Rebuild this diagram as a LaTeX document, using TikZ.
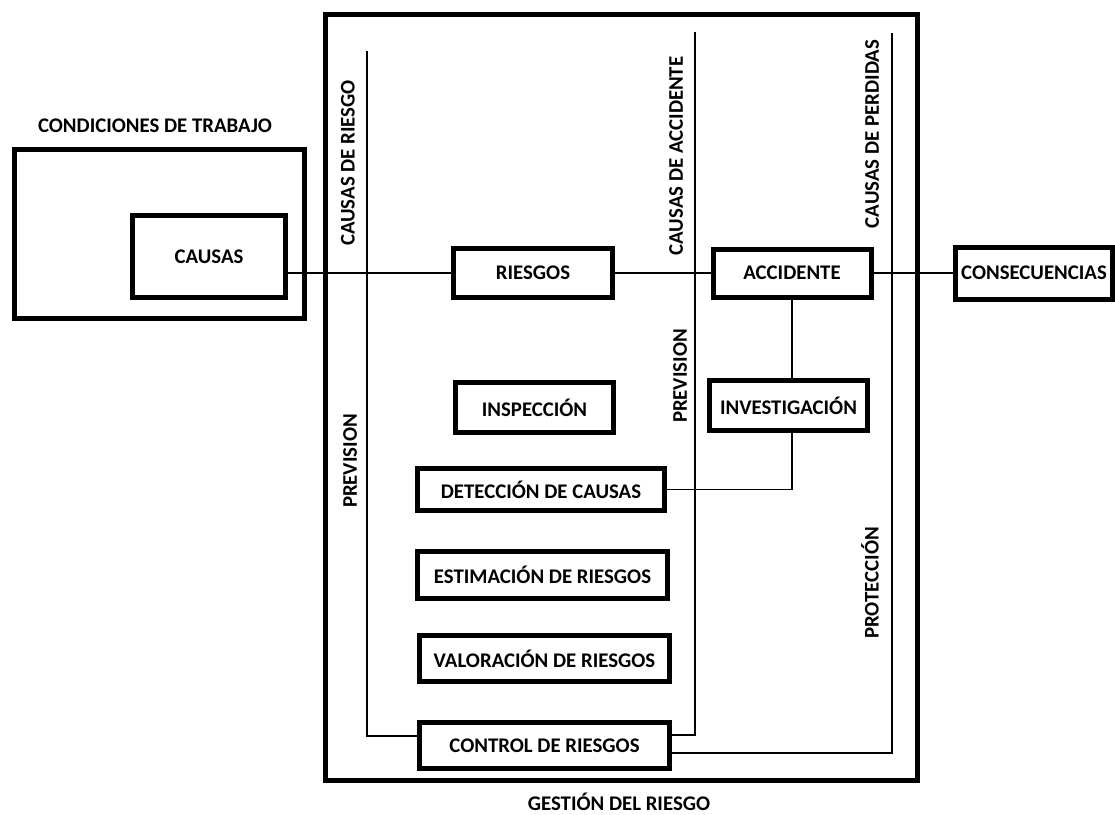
\documentclass[tikz,border=0pt]{standalone}
\usepackage{fontspec}
\setmainfont{Carlito}
\usetikzlibrary{positioning}

\tikzset{
  marco/.style={draw, line width=5pt, inner sep=0pt},
  caja/.style={draw, line width=5pt, inner sep=0pt, align=center},
  linea/.style={line width=1.3pt},
  vert/.style={rotate=90, inner sep=0pt}
}

\begin{document}
\begin{tikzpicture}[x=1pt, y=-1pt, font=\fontsize{20.8}{24}\selectfont\bfseries]
    \useasboundingbox (0,0) rectangle (1115,814);
    % marcos
    \node[marco, minimum width=290pt, minimum height=169pt] (cond) at (159.5,234) {};
    \node (condlbl) at (155,126) {CONDICIONES DE TRABAJO};
    \node[marco, minimum width=591.5pt, minimum height=766.5pt] (gestion) at (621.25,397.25) {};
    \node[inner sep=0pt] (gestionlbl) at (619,802) {GESTIÓN DEL RIESGO};
    % cajas
    \node[caja, minimum width=153pt, minimum height=82pt] (causas) at (209,256.5) {CAUSAS};
    \node[caja, minimum width=159pt, minimum height=49pt] (riesgos) at (533,273) {RIESGOS};
    \node[caja, minimum width=158pt, minimum height=48pt] (accidente) at (792,273) {ACCIDENTE};
    \node[caja, minimum width=157pt, minimum height=52pt] (consec) at (1034,273) {CONSECUENCIAS};
    \node[caja, minimum width=158pt, minimum height=50pt] (inspeccion) at (534.5,407.5) {INSPECCIÓN};
    \node[caja, minimum width=158pt, minimum height=50pt] (investigacion) at (788.5,405.5) {INVESTIGACIÓN};
    \node[caja, minimum width=247pt, minimum height=42pt] (deteccion) at (541,489.5) {DETECCIÓN DE CAUSAS};
    \node[caja, minimum width=250pt, minimum height=47pt] (estimacion) at (542.5,575) {ESTIMACIÓN DE RIESGOS};
    \node[caja, minimum width=250pt, minimum height=46pt] (valoracion) at (544.5,658.5) {VALORACIÓN DE RIESGOS};
    \node[caja, minimum width=250pt, minimum height=46pt] (control) at (544.5,745.5) {CONTROL DE RIESGOS};
    % rotulos verticales
    \node[vert] (crLbl) at (348,163) {CAUSAS DE RIESGO};
    \node[vert] (caLbl) at (676,156) {CAUSAS DE ACCIDENTE};
    \node[vert] (cpLbl) at (872,134) {CAUSAS DE PERDIDAS};
    \node[vert] (prev1) at (350,461) {PREVISION};
    \node[vert] (prev2) at (680,376) {PREVISION};
    \node[vert] (prot) at (870,583) {PROTECCIÓN};
    % lineas
    \coordinate (r1) at (367,51);
    \coordinate (r2) at (367,736);
    \coordinate (a1) at (695,32);
    \coordinate (a2) at (695,735);
    \coordinate (p1) at (892,33);
    \coordinate (p2) at (892,753);
    \draw[linea] (r1) -- (r2) -- (r2 -| control.west);
    \draw[linea] (a1) -- (a2) -- (a2 -| control.east);
    \draw[linea] (p1) -- (p2) -- (p2 -| control.east);
    \draw[linea] (causas.east |- riesgos.west) -- (riesgos.west);
    \draw[linea] (riesgos.east) -- (accidente.west);
    \draw[linea] (accidente.east) -- (consec.west);
    \draw[linea] (accidente.south) -- (accidente.south |- investigacion.north);
    \draw[linea] (accidente.south |- investigacion.south) |- (deteccion.east);
\end{tikzpicture}
\end{document}
